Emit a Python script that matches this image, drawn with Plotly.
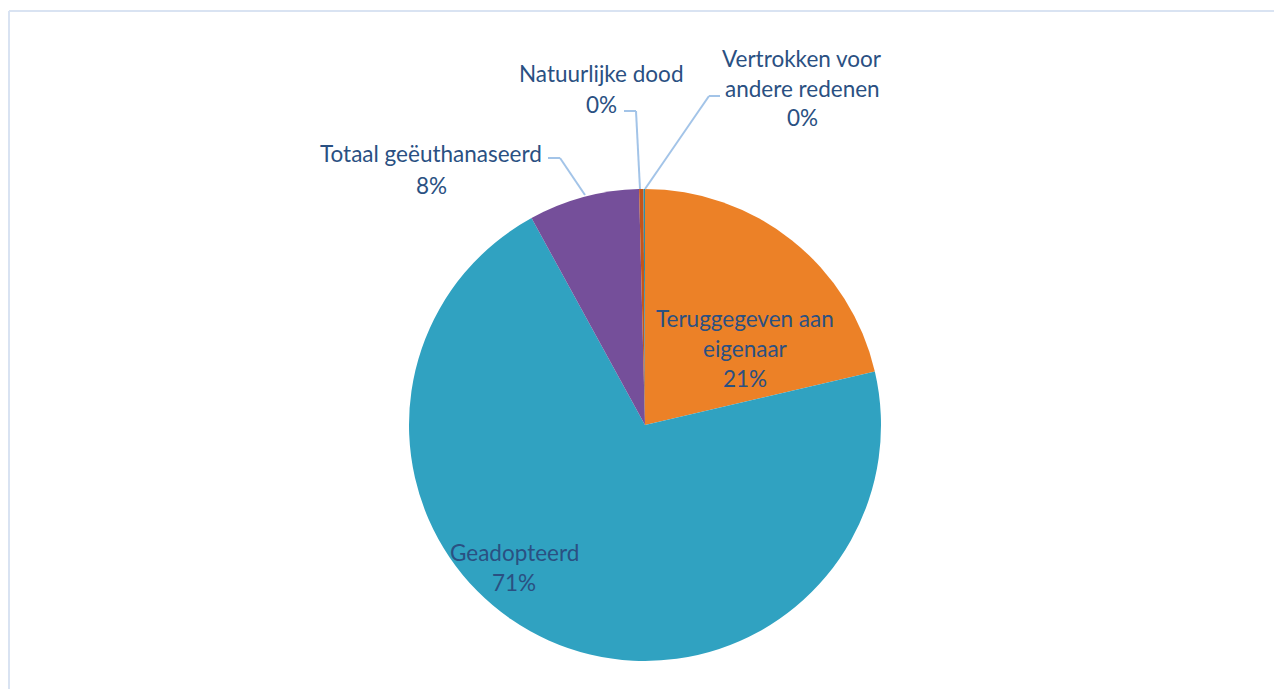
import plotly.graph_objects as go

W, H = 1282, 689
OFF = 8  # page body margin in the browser

# slices, clockwise from 12 o'clock
labels = ["Teruggegeven aan eigenaar", "Geadopteerd", "Totaal geëuthanaseerd",
          "Natuurlijke dood", "Vertrokken voor andere redenen"]
counts = [214, 708, 76, 3, 1]
colors = ["#EC8127", "#30A2C1", "#754F9A", "#C4561A", "#2C8FA8"]

TEXT = "#2A5082"
LEADER = "#A3C4E8"


def px(x, y):
    # screenshot pixel -> paper coords
    return (x - OFF) / W, 1 - (y - OFF) / H


cx0, cy0, R = 645, 425, 236
x_lo, y_top = px(cx0 - R, cy0 - R)
x_hi, y_bot = px(cx0 + R, cy0 + R)

fig = go.Figure(go.Pie(
    labels=labels, values=counts, sort=False, direction="clockwise", rotation=0,
    marker=dict(colors=colors, line=dict(width=0)),
    textinfo="none", hoverinfo="label+percent",
    domain=dict(x=[x_lo, x_hi], y=[y_bot, y_top]),
))

total = sum(counts)
pct = [f"{round(100 * c / total)}%" for c in counts]

# label lines: (lines of text, centre x, y per line)
label_blocks = [
    (["Teruggegeven aan", "eigenaar", pct[0]], 745, [318, 348, 378]),
    (["Geadopteerd", pct[1]], 514, [552, 582]),
    (["Totaal geëuthanaseerd", pct[2]], 431, [154, 185]),
    (["Natuurlijke dood", pct[3]], 601, [74, 104]),
    (["Vertrokken voor", "andere redenen", pct[4]], 802, [58, 88, 118]),
]
annotations = []
for lines, cx, ys in label_blocks:
    for t, y in zip(lines, ys):
        x0, y0 = px(cx, y)
        annotations.append(dict(x=x0, y=y0, xref="paper", yref="paper", text=t,
                                showarrow=False, xanchor="center", yanchor="middle",
                                font=dict(size=22.5, color=TEXT, family="Lato, sans-serif")))

leaders = [
    [(640, 189), (636, 111), (624, 111)],
    [(645, 189), (709, 96), (720, 96)],
    [(585, 195), (560, 158), (548, 158)],
]
shapes = []
for pts in leaders:
    for (xa, ya), (xb, yb) in zip(pts[:-1], pts[1:]):
        p0, p1 = px(xa, ya), px(xb, yb)
        shapes.append(dict(type="line", xref="paper", yref="paper",
                           x0=p0[0], y0=p0[1], x1=p1[0], y1=p1[1],
                           line=dict(color=LEADER, width=2)))

# chart area frame (top and left edges visible)
for (xa, ya), (xb, yb) in [((9, 11), (W + OFF, 11)), ((9, 11), (9, H + OFF))]:
    p0, p1 = px(xa, ya), px(xb, yb)
    shapes.append(dict(type="line", xref="paper", yref="paper",
                       x0=p0[0], y0=p0[1], x1=p1[0], y1=p1[1],
                       line=dict(color="#D9E3F2", width=2)))

fig.update_layout(
    width=W, height=H, margin=dict(l=0, r=0, t=0, b=0),
    paper_bgcolor="white", plot_bgcolor="white", showlegend=False,
    annotations=annotations, shapes=shapes,
)
fig.write_html("out.html")
